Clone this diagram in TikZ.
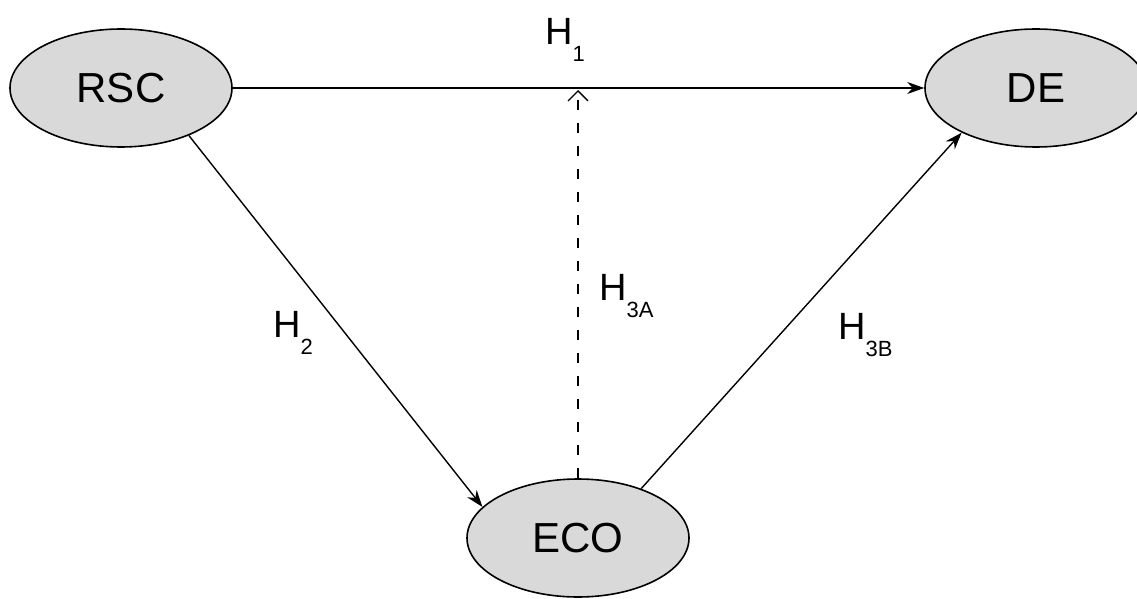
\documentclass[tikz,border=0pt]{standalone}
\usepackage{fontspec}
\setmainfont{Liberation Sans}
\usetikzlibrary{arrows.meta,shapes.geometric}
\definecolor{ellgray}{RGB}{217,217,217}
\newcommand{\hyp}[1]{H\raisebox{-17pt}{\fontsize{22}{22}\selectfont #1}}

\begin{document}
\begin{tikzpicture}[x=1pt, y=1pt,
  construct/.style={ellipse, draw, line width=1.6pt, fill=ellgray, minimum width=222pt, minimum height=118pt, inner sep=0pt, font=\fontsize{42}{42}\selectfont},
  path/.style={line width=1.4pt, -{Stealth[length=17pt, width=12pt]}},
  moderation/.style={line width=1.3pt, dash pattern=on 10pt off 13pt, -{Straight Barb[length=10pt, width=20pt]}},
  hlabel/.style={anchor=base west, inner sep=0pt, font=\fontsize{38}{38}\selectfont}]
\useasboundingbox (0,0) rectangle (1137,598);
\node[construct] (rsc) at (121,510) {RSC};
\node[construct] (de) at (1036,510) {DE};
\node[construct] (eco) at (578,60) {ECO};
\coordinate (mod) at (578,508);
\draw[path] (rsc.east) -- (de.west);
\draw[path] (rsc.-35) -- (eco.162);
\draw[path] (eco.38) -- (de.-149);
\draw[moderation] (eco.north) -- (mod);
\node[hlabel] (h1) at (545,553) {\hyp{1}};
\node[hlabel] (h2) at (273,261) {\hyp{2}};
\node[hlabel] (h3a) at (599,298) {\hyp{3A}};
\node[hlabel] (h3b) at (838,259) {\hyp{3B}};
\end{tikzpicture}
\end{document}
